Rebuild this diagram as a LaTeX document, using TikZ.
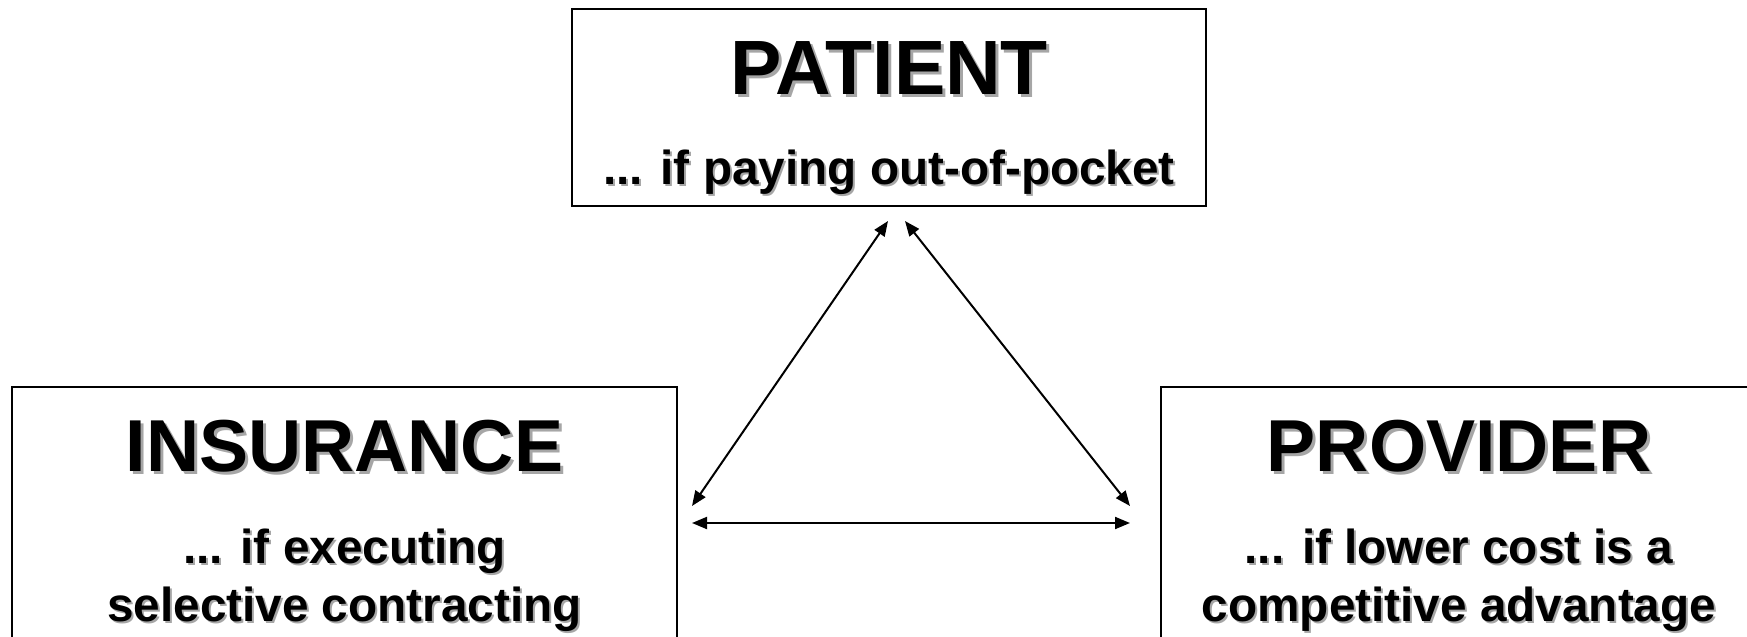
\documentclass[tikz,border=0pt]{standalone}
\usepackage{fontspec}
\setmainfont{Liberation Sans}
\usetikzlibrary{arrows.meta}

\definecolor{shade}{gray}{0.65}
\newcommand{\shadowed}[2]{\leavevmode\rlap{\kern#1\raisebox{-#1}{\color{shade}#2}}#2}

\tikzset{
  box/.style={draw, line width=1pt, inner sep=0pt},
  head/.style={font=\fontsize{36.8}{44}\selectfont\bfseries, anchor=base, inner sep=0pt},
  sub/.style={font=\fontsize{23.85}{29}\selectfont\bfseries, anchor=base, align=center, inner sep=0pt},
  link/.style={line width=1pt, {Triangle[length=7.5pt,width=6pt]}-{Triangle[length=7.5pt,width=6pt]}}
}

\begin{document}
\begin{tikzpicture}[x=0.5pt, y=-0.5pt]
\useasboundingbox (0,0) rectangle (1747,637);
\clip (0,0) rectangle (1747,637);

% the three parties
\node[box, minimum width=317pt, minimum height=98.5pt] (pat) at (888.8,107.5) {};
\node[box, minimum width=332.5pt, minimum height=166.5pt] (ins) at (344.5,553.5) {};
\node[box, minimum width=319.5pt, minimum height=166.5pt] (prov) at (1480.5,553.5) {};

\node[head, font=\fontsize{38.5}{46}\selectfont\bfseries] (patT) at (889,94) {\shadowed{1.5pt}{PATIENT}};
\node[sub] (patS) at (889,184) {\shadowed{1pt}{... if paying out-of-pocket}};

\node[head] (insT) at (344.5,471) {\shadowed{1.5pt}{INSURANCE}};
\node[sub] (insS) at (344.5,621) {\shadowed{1pt}{... if executing}\\\shadowed{1pt}{selective contracting}};

\node[head] (provT) at (1459,471) {\shadowed{1.5pt}{PROVIDER}};
\node[sub] (provS) at (1459,621) {\shadowed{1pt}{... if lower cost is a}\\\shadowed{1pt}{competitive advantage}};

% arrow ends
\coordinate (tl) at (888,221);
\coordinate (tr) at (905,221);
\coordinate (bl) at (692,506);
\coordinate (br) at (1130,506);
\coordinate (hl) at (692,523);
\coordinate (hr) at (1130,523);

\draw[link] (tl) -- (bl);
\draw[link] (tr) -- (br);
\draw[link] (hl) -- (hr);
\end{tikzpicture}
\end{document}
